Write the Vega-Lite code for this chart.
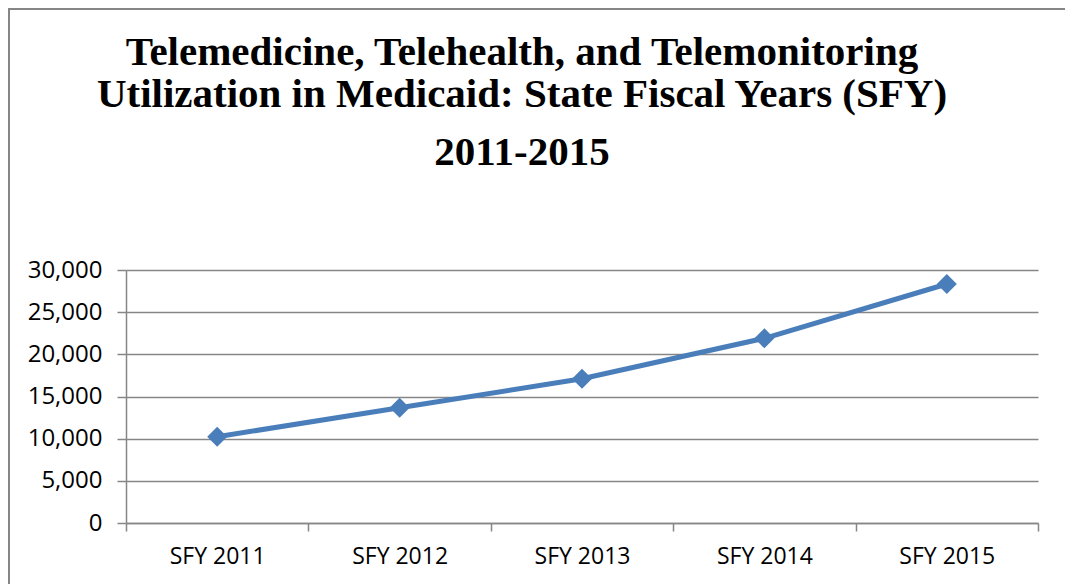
{
  "$schema": "https://vega.github.io/schema/vega-lite/v6.json",
  "width": 1066,
  "height": 585,
  "autosize": {"type": "none"},
  "padding": {"left": 9, "top": 9, "right": 0, "bottom": 0},
  "background": "white",
  "title": {
    "text": ["Telemedicine, Telehealth, and Telemonitoring", "Utilization in Medicaid: State Fiscal Years (SFY)"],
    "subtitle": "2011-2015",
    "font": "Liberation Serif",
    "fontSize": 41,
    "fontWeight": "bold",
    "lineHeight": 42,
    "color": "black",
    "subtitleFont": "Liberation Serif",
    "subtitleFontSize": 41,
    "subtitleFontWeight": "bold",
    "subtitleColor": "black",
    "subtitlePadding": 17,
    "anchor": "middle",
    "frame": "group",
    "offset": -165,
    "dx": -20
  },
  "data": {
    "values": [
      {"year": "SFY 2011", "value": 10230},
      {"year": "SFY 2012", "value": 13670},
      {"year": "SFY 2013", "value": 17100},
      {"year": "SFY 2014", "value": 21900},
      {"year": "SFY 2015", "value": 28340}
    ]
  },
  "encoding": {
    "x": {
      "field": "year",
      "type": "nominal",
      "sort": null,
      "bandPosition": 0.5,
      "scale": {"type": "band", "range": [117, 1029], "paddingInner": 0, "paddingOuter": 0},
      "axis": {
        "title": null,
        "offset": -71,
        "tickBand": "extent",
        "grid": false,
        "labelAngle": 0,
        "tickSize": 8,
        "tickColor": "#868686",
        "tickWidth": 1.5,
        "domainColor": "#868686",
        "domainWidth": 1.5,
        "labelFont": "Open Sans",
        "labelFontSize": 23,
        "labelColor": "black",
        "labelPadding": 14
      }
    },
    "y": {
      "field": "value",
      "type": "quantitative",
      "scale": {"domain": [0, 30000], "range": [514, 261], "nice": false, "zero": true},
      "axis": {
        "title": null,
        "values": [0, 5000, 10000, 15000, 20000, 25000, 30000],
        "format": ",.0f",
        "offset": -117,
        "grid": true,
        "gridColor": "#868686",
        "gridWidth": 1.5,
        "domainColor": "#868686",
        "domainWidth": 1.5,
        "tickColor": "#868686",
        "tickSize": 9,
        "tickWidth": 1.5,
        "labelFont": "Open Sans",
        "labelFontSize": 24,
        "labelColor": "black",
        "labelPadding": 15
      }
    }
  },
  "layer": [
    {"mark": {"type": "line", "color": "#4A7EBB", "strokeWidth": 5}},
    {"mark": {"type": "point", "shape": "diamond", "filled": true, "size": 400, "color": "#4A7EBB", "opacity": 1}}
  ],
  "config": {"view": {"stroke": "#868686", "strokeWidth": 2}}
}
